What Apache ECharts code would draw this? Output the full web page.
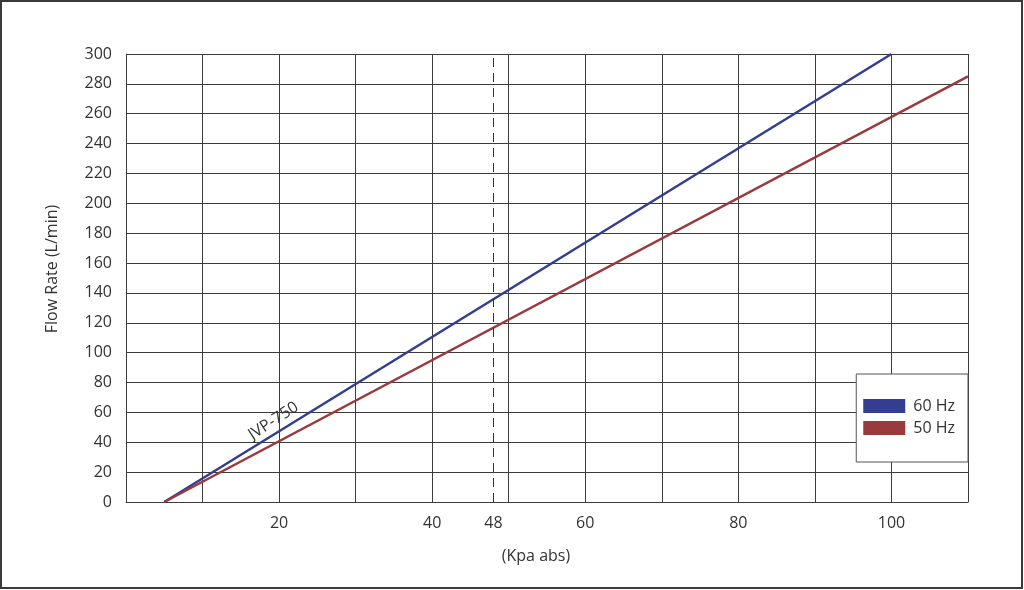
<!DOCTYPE html>
<html>
<head>
<meta charset="utf-8">
<script src="https://cdn.jsdelivr.net/npm/echarts@6/dist/echarts.min.js"></script>
<style>
  html, body { margin: 0; padding: 0; background: #fff; }
  #main { width: 1024px; height: 590px; }
</style>
</head>
<body>
<div id="main"></div>
<script>
(function (echarts) {
  'use strict';

  // pressure (Kpa abs) / flow (L/min) end points of each curve
  var names = ['60 Hz', '50 Hz'];
  var hz60 = [[5, 0], [100, 300]];
  var hz50 = [[5, 0], [110, 285]];
  var xLabels = [20, 40, 48, 60, 80, 100];
  var markX = 48;
  var modelName = 'JVP-750';
  var modelAt = [21, 50.5];

  var blue = '#343e90';
  var red = '#9a3a3c';
  var ink = '#333';
  var font = 'Open Sans';

  var chart = echarts.init(document.getElementById('main'));

  chart.setOption({
    backgroundColor: '#fff',
    animation: false,
    textStyle: {fontFamily: font},
    graphic: [{
      type: 'rect',
      shape: {x: 1, y: 1, width: 1021, height: 587},
      style: {fill: null, stroke: '#3a3a3a', lineWidth: 2},
      silent: true
    }],
    grid: {left: 126, right: 56, top: 54, bottom: 88},
    legend: {
      orient: 'vertical',
      right: 56,
      top: 374,
      padding: [24, 13, 26, 7],
      itemWidth: 42,
      itemHeight: 14,
      itemGap: 6,
      backgroundColor: '#fff',
      borderColor: '#555',
      borderWidth: 1,
      borderRadius: 0,
      z: 10,
      textStyle: {fontSize: 16, color: ink, fontFamily: font, padding: [0, 0, 0, 3]},
      data: names.map(function (n, i) {
        return {name: n, icon: 'rect', itemStyle: {color: i ? red : blue}};
      })
    },
    xAxis: {
      type: 'value',
      min: 0,
      max: 110,
      interval: 10,
      name: '(Kpa abs)',
      nameLocation: 'middle',
      nameGap: 46,
      nameTextStyle: {fontSize: 16, color: ink, padding: [0, 22, 0, 0]},
      axisLine: {lineStyle: {color: '#3c3c3c', width: 1}},
      axisTick: {show: false},
      axisLabel: {
        customValues: xLabels,
        fontSize: 16,
        color: ink,
        margin: 13
      },
      splitLine: {show: true, lineStyle: {color: '#3c3c3c', width: 1}}
    },
    yAxis: {
      type: 'value',
      min: 0,
      max: 300,
      interval: 20,
      name: 'Flow Rate (L/min)',
      nameLocation: 'middle',
      nameGap: 66,
      nameTextStyle: {fontSize: 16, color: ink, padding: [0, 0, 0, 18]},
      axisLine: {show: true, lineStyle: {color: '#3c3c3c', width: 1}},
      axisTick: {show: false},
      axisLabel: {fontSize: 16, color: ink, margin: 14},
      splitLine: {show: true, lineStyle: {color: '#3c3c3c', width: 1}}
    },
    series: [{
      name: names[0],
      type: 'line',
      data: hz60,
      symbol: 'none',
      lineStyle: {color: blue, width: 2.5},
      itemStyle: {color: blue},
      z: 3,
      markLine: {
        silent: true,
        symbol: 'none',
        label: {show: false},
        lineStyle: {color: ink, type: [9, 6], width: 1},
        data: [{xAxis: markX}]
      },
      markPoint: {
        symbol: 'circle',
        symbolSize: 0,
        label: {
          show: true,
          formatter: modelName,
          rotate: 33,
          fontSize: 16,
          color: ink,
          offset: [-8, -12]
        },
        data: [{coord: modelAt}]
      }
    }, {
      name: names[1],
      type: 'line',
      data: hz50,
      symbol: 'none',
      lineStyle: {color: red, width: 2.5},
      itemStyle: {color: red},
      z: 3
    }]
  });
})(window.echarts);
</script>
</body>
</html>
